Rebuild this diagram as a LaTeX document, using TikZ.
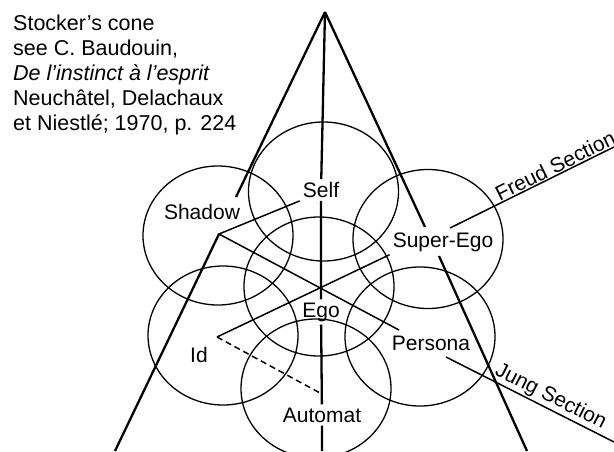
\documentclass[tikz,border=0pt]{standalone}
\usepackage{fontspec}
\setmainfont{Liberation Sans}
\usetikzlibrary{positioning}

\begin{document}
\begin{tikzpicture}[x=1pt,y=-1pt,
		lbl/.style={font=\fontsize{21}{25}\selectfont, inner sep=3pt},
		cone/.style={line width=2.3pt},
		ring/.style={line width=1.3pt},
		link/.style={line width=1.5pt},
		sect/.style={font=\fontsize{21}{25}\selectfont, sloped, anchor=south west, inner sep=1pt}]
	\useasboundingbox (0,0) rectangle (614,451);
	% source note
	\node[font=\fontsize{21.5}{25}\selectfont, align=left, anchor=north west, inner sep=0pt] (note) at (13,14.7)
		{Stocker’s cone\\see C. Baudouin,\\\textit{De l’instinct à l’esprit}\\Neuchâtel, Delachaux\\et Niestlé; 1970, p. 224};
	% the seven spheres
	\foreach \cx/\cy in {319/286.5, 323.5/191.5, 218/235.5, 428/239, 223/335.5, 420/336.5, 316/388.5}
		\draw[ring] (\cx,\cy) ellipse [x radius=75pt, y radius=69.5pt];
	% labels
	\node[lbl] (self) at (321,190) {Self};
	\node[lbl] (ego) at (321,312) {Ego};
	\node[lbl] (automat) at (322,415) {Automat};
	\node[lbl] (shadow) at (202,212) {Shadow};
	\node[lbl] (superego) at (443,242) {Super-Ego};
	\node[lbl] (persona) at (431,343) {Persona};
	\node[lbl] (id) at (199,355) {Id};
	% cone
	\coordinate (apex) at (325,12);
	\coordinate (base) at (322,451);
	\coordinate (lup) at (236,197);
	\coordinate (shv) at (219,234);
	\coordinate (lbot) at (115,451);
	\coordinate (rup) at (425,227);
	\coordinate (rlow) at (439,256);
	\coordinate (rbot) at (527,451);
	\draw[cone] (apex) -- (self) (self) -- (ego) (ego) -- (automat) (automat) -- (base);
	\draw[cone] (apex) -- (lup) (shv) -- (lbot);
	\draw[cone] (apex) -- (rup) (rlow) -- (rbot);
	% cross links
	\coordinate (idv) at (217,337);
	\coordinate (pend) at (399,330);
	\coordinate (dend) at (320,393);
	\draw[link] (self.south west) -- (shv) -- (pend);
	\draw[link] (superego.south west) -- (idv);
	\draw[link, dashed, dash pattern=on 6pt off 4pt] (idv) -- (dend);
	% sections
	\coordinate (fs) at (450,228);
	\coordinate (fend) at (614,147);
	\coordinate (js) at (446,357);
	\coordinate (jend) at (614,442);
	\draw[link] (fs) -- (fend) node[sect, pos=0.3] {Freud Section};
	\draw[link] (js) -- (jend) node[sect, pos=0.26] {Jung Section};
\end{tikzpicture}
\end{document}
